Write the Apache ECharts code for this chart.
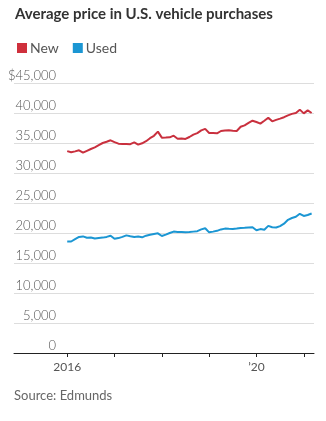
<!DOCTYPE html>
<html>
<head>
<meta charset="utf-8">
<script src="https://cdn.jsdelivr.net/npm/echarts@6/dist/echarts.min.js"></script>
<style>
  html, body { margin: 0; padding: 0; background: #fff; }
  #chart { width: 326px; height: 421px; }
</style>
</head>
<body>
<div id="chart"></div>
<script>
// Monthly average transaction price, Jan 2016 – Mar 2021 (index 0 = Jan 2016)
const newPrices = [
  33650, 33450, 33600, 33780, 33390, 33700, 34000, 34280, 34650, 35000, 35200, 35450,
  35150, 34890, 34850, 34830, 34800, 35100, 34720, 34950, 35300, 35800, 36200, 36890,
  35890, 35900, 35950, 36220, 35720, 35750, 35670, 36000, 36400, 36650, 37100, 37350,
  36670, 36650, 36610, 37000, 37080, 37110, 37050, 37000, 37700, 37940, 38350, 38720,
  38500, 38220, 38700, 39220, 38610, 38850, 39060, 39300, 39600, 39850, 40000, 40560,
  39940, 40440, 40000
];
const usedPrices = [
  18600, 18580, 18980, 19350, 19430, 19200, 19260, 19090, 19180, 19230, 19350, 19550,
  19030, 19150, 19350, 19600, 19450, 19350, 19400, 19280, 19550, 19720, 19850, 19940,
  19500, 19730, 20000, 20230, 20180, 20150, 20120, 20160, 20230, 20300, 20600, 20800,
  20110, 20230, 20360, 20600, 20730, 20700, 20680, 20750, 20840, 20880, 20930, 20950,
  20450, 20650, 20550, 21190, 20950, 20910, 21150, 21550, 22200, 22500, 22700, 23200,
  22840, 23000, 23240
];
const seriesNames = ['New', 'Used'];
const yearTicks = [0, 12, 24, 36, 48, 60];          // January of 2016 … 2021
const yearLabels = { 0: '2016', 48: '\u201920' };

const toPoints = arr => arr.map((v, i) => [i, v]);

const chart = echarts.init(document.getElementById('chart'), null, { renderer: 'canvas' });
const font = 'Lato, "Open Sans", sans-serif';

chart.setOption({
  animation: false,
  backgroundColor: '#fff',
  title: {
    text: 'Average price in U.S. vehicle purchases',
    left: 10, top: 2,
    textStyle: { fontFamily: font, fontWeight: 'bold', fontSize: 15, color: '#333' }
  },
  legend: {
    data: seriesNames,
    left: 12, top: 36,
    icon: 'rect', itemWidth: 10, itemHeight: 10, itemGap: 14,
    textStyle: { fontFamily: font, fontSize: 14, color: '#555', padding: [0, 0, 0, -2] }
  },
  grid: { left: 14, right: 12, top: 83, bottom: 68 },
  xAxis: {
    type: 'value',
    min: -13.5, max: 62.6,
    splitLine: { show: false },
    axisLine: { show: true, lineStyle: { color: '#222', width: 1 } },
    axisTick: { show: true, customValues: yearTicks, length: 4, lineStyle: { color: '#222' } },
    axisLabel: {
      customValues: [0, 48],
      formatter: v => yearLabels[v] || '',
      fontFamily: font, fontSize: 12, color: '#555', margin: 8
    }
  },
  yAxis: {
    type: 'value',
    min: 0, max: 45000, interval: 5000,
    axisLine: { show: false },
    axisTick: { show: false },
    splitLine: { lineStyle: { color: '#ddd', width: 1 } },
    axisLabel: {
      inside: true, align: 'right', verticalAlign: 'bottom', margin: 42,
      lineHeight: 13, padding: [0, 0, 1, 0],
      fontFamily: font, fontSize: 13, fontWeight: 300, color: '#555',
      formatter: v => {
        const s = v.toLocaleString('en-US');
        return v === 45000 ? '$' + s : s;
      }
    }
  },
  series: [
    {
      name: seriesNames[0], type: 'line', data: toPoints(newPrices),
      showSymbol: false, smooth: false,
      lineStyle: { color: '#c9303e', width: 2 }, itemStyle: { color: '#cf303c' }
    },
    {
      name: seriesNames[1], type: 'line', data: toPoints(usedPrices),
      showSymbol: false, smooth: false,
      lineStyle: { color: '#1b96d3', width: 2 }, itemStyle: { color: '#1b96d3' }
    }
  ],
  graphic: [{
    type: 'text', left: 14, top: 389,
    style: { text: 'Source: Edmunds', font: '13px ' + font, fill: '#666' }
  }]
});
</script>
</body>
</html>
